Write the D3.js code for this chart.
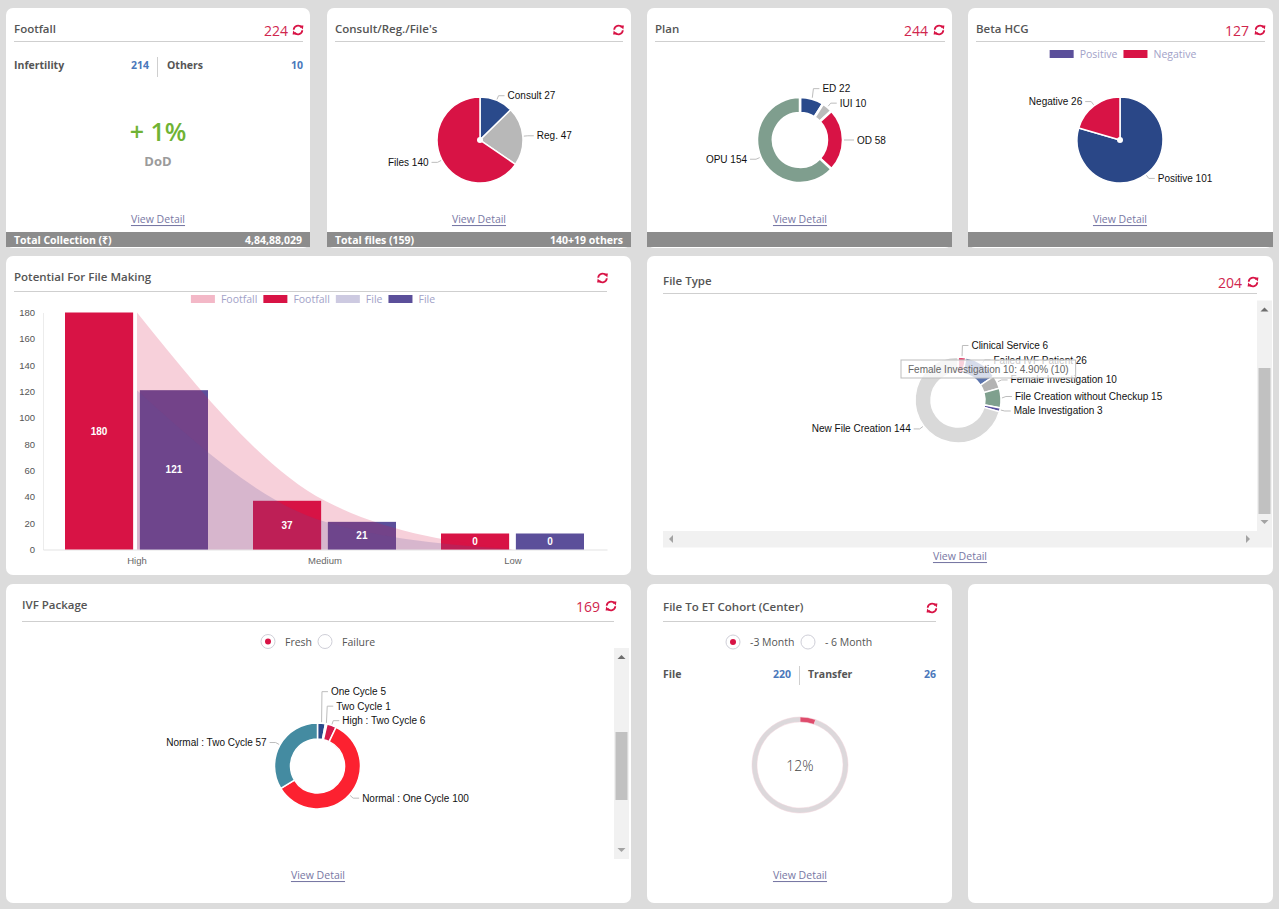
<!DOCTYPE html>
<html><head><meta charset="utf-8">
<script src="https://cdn.jsdelivr.net/npm/d3@7"></script>
<style>
html,body{margin:0;padding:0;background:#dcdcdc;}
svg{display:block;}
</style></head><body>
<svg id="dash" width="1279" height="909"></svg>
<script>
// ---------------- DATA ----------------
const footfallTotal = 224;
const footfallSplitLabels = ["Infertility", "Others"];
const footfallSplitValues = [214, 10];
const footfallDoD = "+ 1%";
const footfallCollection = "4,84,88,029";

const consultLabels = ["Consult", "Reg.", "Files"];
const consultValues = [27, 47, 140];
const consultFooter = ["Total files (159)", "140+19 others"];

const planTotal = 244;
const planLabels = ["ED", "IUI", "OD", "OPU"];
const planValues = [22, 10, 58, 154];

const betaTotal = 127;
const betaLabels = ["Positive", "Negative"];
const betaValues = [101, 26];

const potentialCategories = ["High", "Medium", "Low"];
const potentialSeries = ["Footfall", "File"];
const potentialFootfall = [180, 37, 0];
const potentialFile = [121, 21, 0];
const potentialTicks = [0, 20, 40, 60, 80, 100, 120, 140, 160, 180];

const fileTypeTotal = 204;
const fileTypeLabels = ["Clinical Service", "Failed IVF Patient", "Female Investigation", "File Creation without Checkup", "Male Investigation", "New File Creation"];
const fileTypeValues = [6, 26, 10, 15, 3, 144];
const fileTypeHover = "Female Investigation";

const ivfTotal = 169;
const ivfOptions = ["Fresh", "Failure"];
const ivfLabels = ["One Cycle", "Two Cycle", "High : Two Cycle", "Normal : One Cycle", "Normal : Two Cycle"];
const ivfValues = [5, 1, 6, 100, 57];

const cohortOptions = ["-3 Month", "- 6 Month"];
const cohortLabels = ["File", "Transfer"];
const cohortValues = [220, 26];
const cohortPercentText = "12%";
const cohortArcShare = [5.3, 94.7]; // share of the ring drawn red

// ---------------- HELPERS ----------------
const svg = d3.select("#dash");
const UI = "'Open Sans','Noto Sans',sans-serif";
const LF = "'Liberation Sans',Arial,sans-serif";
const CRIMSON = "#d81345", NAVY = "#2a4a8b", GRAY = "#b7b7b7", SAGE = "#7f9e8e", PURPLE = "#5b4f9a";

function txt(x, y, s, o = {}) {
  const t = svg.append("text").attr("x", x).attr("y", y).text(s)
    .attr("font-family", o.ff || UI).attr("font-size", o.fs || 11)
    .attr("fill", o.fill || "#555").attr("font-weight", o.fw || 400)
    .attr("text-anchor", o.anchor || "start").attr("dominant-baseline", "central");
  if (o.ul) t.attr("text-decoration", "underline");
  return t;
}
function card(x, y, w, h) {
  svg.append("rect").attr("x", x).attr("y", y).attr("width", w).attr("height", h).attr("rx", 7).attr("fill", "#fff");
}
function hline(x1, x2, y, c) {
  svg.append("line").attr("x1", x1).attr("x2", x2).attr("y1", y).attr("y2", y).attr("stroke", c || "#cfcfcf").attr("stroke-width", 1);
}
function vline(x, y1, y2) {
  svg.append("line").attr("x1", x).attr("x2", x).attr("y1", y1).attr("y2", y2).attr("stroke", "#cfcfcf");
}
function refresh(x, y) {
  const g = svg.append("g").attr("transform", `translate(${x},${y})`);
  g.append("path").attr("d", "M -4.3,-0.3 A 4.3 4.3 0 0 1 3.4,-2.6").attr("fill", "none").attr("stroke", CRIMSON).attr("stroke-width", 1.8);
  g.append("path").attr("d", "M 1.4,-4.4 L 5.4,-4.6 L 4.8,-0.6 Z").attr("fill", CRIMSON);
  g.append("path").attr("d", "M 4.3,0.3 A 4.3 4.3 0 0 1 -3.4,2.6").attr("fill", "none").attr("stroke", CRIMSON).attr("stroke-width", 1.8);
  g.append("path").attr("d", "M -1.4,4.4 L -5.4,4.6 L -4.8,0.6 Z").attr("fill", CRIMSON);
}
function header(x, y, title, lineX2, lineY, num, iconX, iconY, numX) {
  txt(x, y, title, { fs: 11.5, fw: 600, fill: "#555" });
  hline(x, lineX2, lineY);
  if (num !== null) txt(numX, iconY + 0.5, num, { fs: 14, fill: "#d0264d", anchor: "end" });
  refresh(iconX, iconY);
}
function viewDetail(x, y) {
  txt(x, y, "View Detail", { fs: 10.5, fill: "#7878a4", anchor: "middle", ul: true });
}
function footer(x, w, left, right) {
  svg.append("rect").attr("x", x).attr("y", 232).attr("width", w).attr("height", 15).attr("fill", "#8c8c8c");
  if (left) txt(x + 8, 239.5, left, { fs: 10.5, fw: 700, fill: "#fff" });
  if (right) txt(x + w - 8, 239.5, right, { fs: 10.5, fw: 700, fill: "#fff", anchor: "end" });
}
function radio(x, y, label, selected) {
  svg.append("circle").attr("cx", x).attr("cy", y).attr("r", 7).attr("fill", "#fff").attr("stroke", "#cfcfd8");
  if (selected) svg.append("circle").attr("cx", x).attr("cy", y).attr("r", 3).attr("fill", CRIMSON);
  txt(x + 17, y, label, { fs: 10.5, fill: "#555" });
}
function vscroll(x, y1, y2, t1, t2) {
  svg.append("rect").attr("x", x).attr("y", y1).attr("width", 15).attr("height", y2 - y1).attr("fill", "#f1f1f1");
  svg.append("rect").attr("x", x + 1.5).attr("y", t1).attr("width", 12).attr("height", t2 - t1).attr("fill", "#c1c1c1");
  const cx = x + 7.5;
  svg.append("path").attr("d", `M ${cx - 4},${y1 + 11} L ${cx + 4},${y1 + 11} L ${cx},${y1 + 7} Z`).attr("fill", "#6e6e6e");
  svg.append("path").attr("d", `M ${cx - 4},${y2 - 11} L ${cx + 4},${y2 - 11} L ${cx},${y2 - 7} Z`).attr("fill", "#a3a3a3");
}
function donut(o) {
  const g = svg.append("g").attr("transform", `translate(${o.cx},${o.cy})`);
  const data = o.labels.map((l, i) => ({ label: l, value: o.values[i], color: o.colors[i] }));
  const arcs = d3.pie().sort(null).value(d => d.value)(data);
  const arc = d3.arc().innerRadius(o.ri).outerRadius(o.r);
  g.selectAll("path.slice").data(arcs).join("path").attr("class", "slice")
    .attr("d", arc).attr("fill", d => d.data.color).attr("stroke", "#fff").attr("stroke-width", o.sw || 1.5);
  if (o.dot) g.append("circle").attr("r", o.dot).attr("fill", "#fff");
  const R = o.r + 5;
  const items = arcs.map(a => {
    const m = (a.startAngle + a.endAngle) / 2, s = Math.sin(m), c = -Math.cos(m);
    return { a, s, c, side: s >= 0 ? 1 : -1, ax: R * s, ay: R * c, y: R * c };
  });
  [1, -1].forEach(side => {
    const list = items.filter(d => d.side === side).sort((p, q) => q.ay - p.ay);
    for (let i = 1; i < list.length; i++) list[i].y = Math.min(list[i].ay, list[i - 1].y - 14.5);
  });
  items.forEach(d => {
    const pts = [[(o.r + 1) * d.s, (o.r + 1) * d.c], [d.ax, d.y], [d.ax + d.side * 6, d.y]];
    g.append("polyline").attr("points", pts.map(p => p.join(",")).join(" "))
      .attr("fill", "none").attr("stroke", "#bdbdbd").attr("stroke-width", 1);
    g.append("text").attr("x", d.ax + d.side * 9).attr("y", d.y).attr("dominant-baseline", "central")
      .attr("text-anchor", d.side > 0 ? "start" : "end").attr("font-family", LF).attr("font-size", 10)
      .attr("fill", "#111").text(`${d.a.data.label} ${d.a.data.value}`);
  });
  return { g, arcs, arc };
}
function legend(cx, y, items) {
  const g = svg.append("g");
  let x = 0;
  items.forEach(it => {
    g.append("rect").attr("x", x).attr("y", y - 4).attr("width", 24).attr("height", 8).attr("fill", it.color).attr("opacity", it.op || 1);
    const t = g.append("text").attr("x", x + 30).attr("y", y).attr("dominant-baseline", "central")
      .attr("font-family", UI).attr("font-size", 10.5).attr("fill", "#a2a2c8").text(it.label);
    x += 30 + t.node().getComputedTextLength() + 6;
  });
  const w = x - 6;
  g.attr("transform", `translate(${cx - w / 2},0)`);
}

// ---------------- CARDS ----------------
card(6, 8, 304, 240); card(327, 8, 304, 240); card(647, 8, 305, 240); card(968, 8, 305, 240);
card(6, 256, 625, 319); card(647, 256, 626, 319);
card(6, 584, 625, 319); card(647, 584, 305, 319); card(968, 584, 305, 319);

// ---- Footfall
header(14, 28, "Footfall", 303, 41.5, String(footfallTotal), 298, 30, 288);
txt(14, 64.5, footfallSplitLabels[0], { fs: 10.5, fw: 700, fill: "#555" });
txt(149, 64.5, String(footfallSplitValues[0]), { fs: 10.5, fw: 700, fill: "#4a78bb", anchor: "end" });
vline(157.5, 57, 77);
txt(167, 64.5, footfallSplitLabels[1], { fs: 10.5, fw: 700, fill: "#555" });
txt(303, 64.5, String(footfallSplitValues[1]), { fs: 10.5, fw: 700, fill: "#4a78bb", anchor: "end" });
txt(158, 131, footfallDoD, { fs: 25, fw: 600, fill: "#6fb334", anchor: "middle" });
txt(158, 161, "DoD", { fs: 13, fw: 700, fill: "#9b9b9b", anchor: "middle" });
viewDetail(158, 219);
footer(6, 304, "Total Collection (₹)", footfallCollection);

// ---- Consult
header(335, 28, "Consult/Reg./File's", 623, 41.5, null, 618.5, 30, 0);
donut({ cx: 480, cy: 140, r: 43, ri: 0, labels: consultLabels, values: consultValues, colors: [NAVY, "#b8b8b8", CRIMSON], sw: 1.5, dot: 3 });
viewDetail(479, 219);
footer(327, 304, consultFooter[0], consultFooter[1]);

// ---- Plan
header(655, 28, "Plan", 945, 41.5, String(planTotal), 939, 30, 928);
donut({ cx: 800, cy: 140, r: 43, ri: 27, labels: planLabels, values: planValues, colors: [NAVY, "#bbbbbb", CRIMSON, SAGE], sw: 2.5 });
viewDetail(800, 219);
footer(647, 305, null, null);

// ---- Beta HCG
header(976, 28, "Beta HCG", 1265, 41.5, String(betaTotal), 1260, 30, 1249);
legend(1123, 54, [{ label: betaLabels[0], color: PURPLE }, { label: betaLabels[1], color: CRIMSON }]);
donut({ cx: 1120, cy: 140, r: 43, ri: 0, labels: betaLabels, values: betaValues, colors: ["#2a4787", CRIMSON], sw: 1.5, dot: 3 });
viewDetail(1120, 219);
footer(968, 305, null, null);

// ---- Potential For File Making
header(14, 276, "Potential For File Making", 607, 291.5, null, 602.5, 278, 0);
legend(313, 299, [
  { label: potentialSeries[0], color: CRIMSON, op: 0.3 },
  { label: potentialSeries[0], color: CRIMSON },
  { label: potentialSeries[1], color: PURPLE, op: 0.3 },
  { label: potentialSeries[1], color: PURPLE }
]);
(function () {
  const x0 = d3.scaleBand().domain(potentialCategories).range([43, 607]);
  const x1 = d3.scaleBand().domain(potentialSeries).range([22, 165]).paddingInner(0.09);
  const y = d3.scaleLinear().domain([0, 180]).range([549.5, 312.5]);
  const g = svg.append("g");
  const yAx = g.append("g").attr("transform", "translate(43,0)")
    .call(d3.axisLeft(y).tickValues(potentialTicks).tickSize(0).tickPadding(8));
  yAx.select(".domain").attr("stroke", "#ececec");
  yAx.selectAll("text").attr("font-family", LF).attr("font-size", 9.5).attr("fill", "#555");
  const xAx = g.append("g").attr("transform", "translate(0,549.5)")
    .call(d3.axisBottom(x0).tickSize(0).tickPadding(8));
  xAx.select(".domain").attr("stroke", "#e3e3e3");
  xAx.selectAll("text").attr("font-family", LF).attr("font-size", 9.5).attr("fill", "#666");
  const seriesVals = { Footfall: potentialFootfall, File: potentialFile };
  const seriesCol = { Footfall: CRIMSON, File: PURPLE };
  const rows = [];
  potentialCategories.forEach((c, i) => potentialSeries.forEach(s => rows.push({ c, s, v: seriesVals[s][i] })));
  const hgt = v => Math.max(y(0) - y(v), 16);
  g.selectAll("rect.bar").data(rows).join("rect").attr("class", "bar")
    .attr("x", d => x0(d.c) + x1(d.s)).attr("width", x1.bandwidth())
    .attr("y", d => y(0) - hgt(d.v)).attr("height", d => hgt(d.v)).attr("fill", d => seriesCol[d.s]);
  const area = d3.area().curve(d3.curveMonotoneX)
    .x((d, i) => x0(potentialCategories[i]) + x0.bandwidth() / 2).y0(y(0)).y1(d => y(d));
  g.append("path").attr("d", area(potentialFootfall)).attr("fill", CRIMSON).attr("opacity", 0.2);
  g.append("path").attr("d", area(potentialFile)).attr("fill", PURPLE).attr("opacity", 0.2);
  g.selectAll("text.lbl").data(rows).join("text").attr("class", "lbl")
    .attr("x", d => x0(d.c) + x1(d.s) + x1.bandwidth() / 2).attr("y", d => y(0) - hgt(d.v) / 2)
    .attr("text-anchor", "middle").attr("dominant-baseline", "central")
    .attr("font-family", LF).attr("font-size", 10).attr("font-weight", 700).attr("fill", "#fff").text(d => d.v);
})();

// ---- File Type
header(663, 280, "File Type", 1257, 293.5, String(fileTypeTotal), 1253, 282, 1242);
vscroll(1257, 300.5, 531, 368, 514);
svg.append("rect").attr("x", 663).attr("y", 531).attr("width", 609).attr("height", 16.5).attr("fill", "#f1f1f1");
svg.append("path").attr("d", "M 673,535 L 673,543 L 669,539 Z").attr("fill", "#a3a3a3");
svg.append("path").attr("d", "M 1246,535 L 1246,543 L 1250,539 Z").attr("fill", "#a3a3a3");
(function () {
  const cx = 958, cy = 400;
  donut({ cx, cy, r: 43, ri: 27, labels: fileTypeLabels, values: fileTypeValues,
    colors: ["#e24a72", "#5b74ad", "#b3b3b3", "#7fa08e", "#5b52a0", "#d9d9d9"], sw: 1.5 });
  const i = fileTypeLabels.indexOf(fileTypeHover);
  const v = fileTypeValues[i];
  const tip = `${fileTypeLabels[i]} ${v}: ${(v / fileTypeTotal * 100).toFixed(2)}% (${v})`;
  const tg = svg.append("g").attr("transform", `translate(${cx - 57},${cy - 40})`);
  const rect = tg.append("rect").attr("height", 18).attr("fill", "#fff").attr("fill-opacity", 0.75)
    .attr("stroke", "#bdbdbd").attr("stroke-width", 1);
  const t = tg.append("text").attr("x", 7).attr("y", 9).attr("dominant-baseline", "central")
    .attr("font-family", LF).attr("font-size", 10).attr("fill", "#666").text(tip);
  rect.attr("width", t.node().getComputedTextLength() + 14);
})();
viewDetail(960, 556);

// ---- IVF Package
header(22, 604, "IVF Package", 614, 621.5, String(ivfTotal), 611, 606, 600);
radio(268, 641.5, ivfOptions[0], true);
radio(325, 641.5, ivfOptions[1], false);
vscroll(614, 648, 859, 732, 800);
donut({ cx: 317.5, cy: 766, r: 43, ri: 27, labels: ivfLabels, values: ivfValues,
  colors: [NAVY, "#e4e7ef", "#d41a4a", "#fc2130", "#448ba1"], sw: 1.5 });
viewDetail(318, 875);

// ---- File To ET Cohort
header(663, 606, "File To ET Cohort (Center)", 936, 621.5, null, 932, 608, 0);
radio(733, 642, cohortOptions[0], true);
radio(808, 642, cohortOptions[1], false);
txt(663, 673.5, cohortLabels[0], { fs: 10.5, fw: 700, fill: "#555" });
txt(791, 673.5, String(cohortValues[0]), { fs: 10.5, fw: 700, fill: "#4a78bb", anchor: "end" });
vline(799.5, 666, 685);
txt(808, 673.5, cohortLabels[1], { fs: 10.5, fw: 700, fill: "#555" });
txt(936, 673.5, String(cohortValues[1]), { fs: 10.5, fw: 700, fill: "#4a78bb", anchor: "end" });
(function () {
  const g = svg.append("g").attr("transform", "translate(800,765)");
  const arcs = d3.pie().sort(null)(cohortArcShare);
  const arc = d3.arc().innerRadius(43).outerRadius(48);
  g.selectAll("path").data(arcs).join("path").attr("d", arc)
    .attr("fill", (d, i) => i === 0 ? "#de4c6c" : "#dcd8db").attr("stroke", "#f3d3da").attr("stroke-width", 0.5);
  g.append("text").attr("text-anchor", "middle").attr("dominant-baseline", "central")
    .attr("font-family", UI).attr("font-size", 14).attr("font-weight", 300).attr("fill", "#444").text(cohortPercentText);
})();
viewDetail(800, 875);
</script>
</body></html>
